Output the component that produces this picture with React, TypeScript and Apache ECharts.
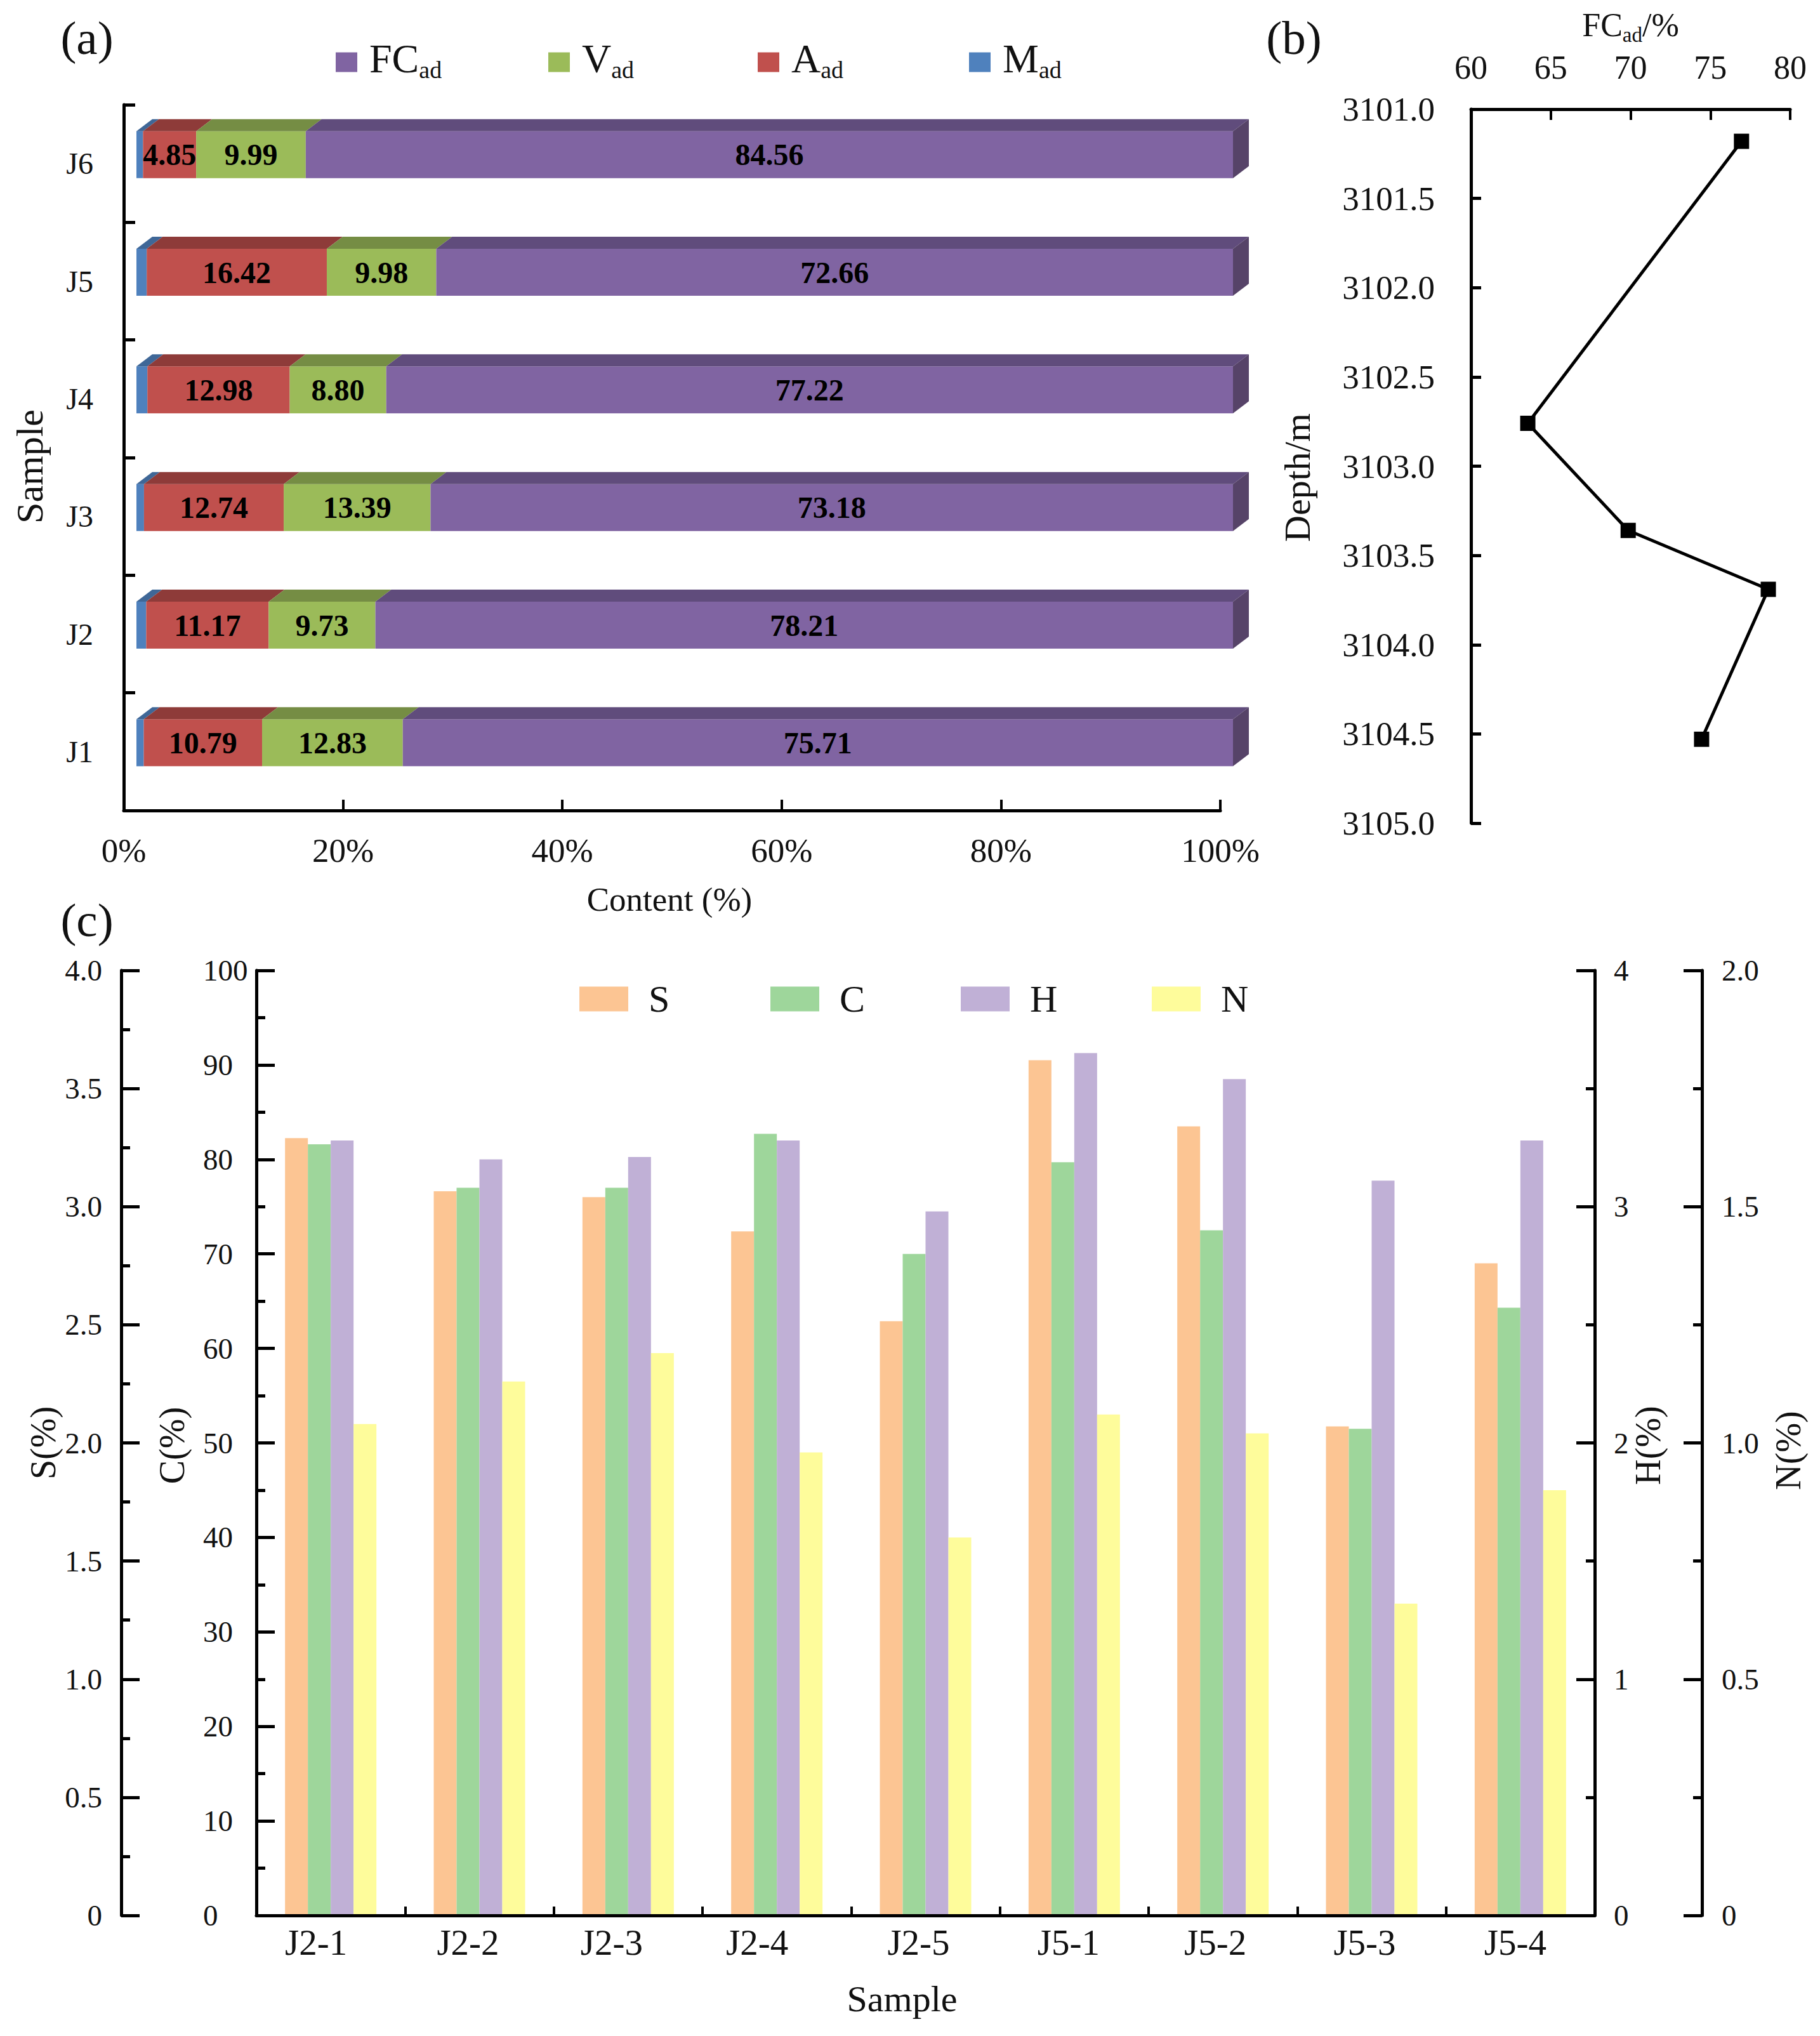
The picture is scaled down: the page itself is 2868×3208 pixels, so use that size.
import * as React from "react";
import * as echarts from "echarts";

const FONT = "Liberation Serif";
const INK = "#111111";

// panel (a): proximate analysis, J1 at the bottom
const samples = ["J1", "J2", "J3", "J4", "J5", "J6"];
const madValues = [0.67, 0.89, 0.69, 1.0, 0.94, 0.6];
const aadValues = [10.79, 11.17, 12.74, 12.98, 16.42, 4.85];
const vadValues = [12.83, 9.73, 13.39, 8.8, 9.98, 9.99];
const fcValues = [75.71, 78.21, 73.18, 77.22, 72.66, 84.56];

// panel (b): FCad against depth
const fcProfile = [76.95, 63.56, 69.85, 78.63, 74.45];
const depthProfile = [3101.18, 3102.76, 3103.36, 3103.69, 3104.53];

// panel (c): ultimate analysis
const ultimateSamples = ["J2-1", "J2-2", "J2-3", "J2-4", "J2-5", "J5-1", "J5-2", "J5-3", "J5-4"];
const sValues = [3.29, 3.065, 3.04, 2.895, 2.515, 3.62, 3.34, 2.07, 2.76];
const cValues = [81.6, 77.0, 77.0, 82.7, 70.0, 79.7, 72.5, 51.5, 64.3];
const hValues = [3.28, 3.2, 3.21, 3.28, 2.98, 3.65, 3.54, 3.11, 3.28];
const nValues = [1.04, 1.13, 1.19, 0.98, 0.8, 1.06, 1.02, 0.66, 0.9];
// the labels under (c) were placed by hand in the original, not centred on their bars
const labelShift = [23, 18, 26, 31, 11, 9, 12, 11, 8];

const axisLine = { show: true, onZero: false, lineStyle: { color: "#000", width: 5 } };
const text = (fontSize: number) => ({ fontFamily: FONT, fontSize, color: INK });
const one = (v: number) => (v === 0 ? "0" : v.toFixed(1));

// 3D-looking stacked segment; the Excel chart shifts the front face off the axis
function segment(name: string, values: number[], before: number[][], front: string, top: string, side?: string) {
  const data = values.map((v, i) => {
    const start = before.reduce((sum, arr) => sum + arr[i], 0);
    return [i, start, start + v, v];
  });
  return {
    type: "custom",
    name,
    xAxisIndex: 0,
    yAxisIndex: 0,
    itemStyle: { color: front },
    encode: { x: [1, 2], y: 0 },
    data,
    renderItem: (_: unknown, api: any) => {
      const [x0, yc] = api.coord([api.value(1), api.value(0)]);
      const [x1] = api.coord([api.value(2), api.value(0)]);
      const dx = 25;
      const dy = 19;
      const fx0 = x0 + 20;
      const fx1 = x1 + 20;
      const y0 = yc - 51;
      const y1 = yc + 23;
      const children: any[] = [
        { type: "rect", shape: { x: fx0, y: y0, width: fx1 - fx0, height: y1 - y0 }, style: { fill: front } },
        {
          type: "polygon",
          shape: { points: [[fx0, y0], [fx1, y0], [fx1 + dx, y0 - dy], [fx0 + dx, y0 - dy]] },
          style: { fill: top },
        },
      ];
      if (side) {
        children.push({
          type: "polygon",
          shape: { points: [[fx1, y0], [fx1 + dx, y0 - dy], [fx1 + dx, y1 - dy], [fx1, y1]] },
          style: { fill: side },
        });
      }
      if (name !== "Mad") {
        children.push({
          type: "text",
          style: {
            text: api.value(3).toFixed(2),
            x: (fx0 + fx1) / 2,
            y: (y0 + y1) / 2,
            align: "center",
            verticalAlign: "middle",
            fontFamily: FONT,
            fontWeight: "bold",
            fontSize: 48,
            fill: "#000",
          },
        });
      }
      return { type: "group", children };
    },
  };
}

function legendOne(name: string, left: number, top: number, w: number, h: number, rich: any, label: string) {
  return {
    data: [name],
    left,
    top,
    padding: 0,
    icon: "rect",
    itemWidth: w,
    itemHeight: h,
    selectedMode: false,
    formatter: () => label,
    textStyle: { ...text(60), rich },
  };
}

const adRich = {
  a: { fontFamily: FONT, fontSize: 64, color: INK, padding: [0, 0, 12, 14] },
  b: { fontFamily: FONT, fontSize: 38, color: INK, padding: [24, 0, 0, 0] },
};
const elemRich = { a: { fontFamily: FONT, fontSize: 60, color: INK, padding: [0, 0, 0, 27] } };

function elemBar(name: string, values: number[], axis: number, color: string) {
  return {
    type: "bar",
    name,
    xAxisIndex: 2,
    yAxisIndex: axis,
    barWidth: 36,
    barGap: "0%",
    itemStyle: { color },
    data: values,
  };
}

function App() {
  const ref = React.useRef<HTMLDivElement | null>(null);

  React.useEffect(() => {
    if (!ref.current) return;
    const chart = echarts.init(ref.current, undefined, { renderer: "svg" });
    const option = {
      animation: false,
      backgroundColor: "#fff",
      graphic: [
        { type: "text", x: 137, y: 59, style: { text: "(a)", fontFamily: FONT, fontSize: 75, fill: INK, align: "center", verticalAlign: "middle" } },
        { type: "text", x: 2039, y: 59, style: { text: "(b)", fontFamily: FONT, fontSize: 75, fill: INK, align: "center", verticalAlign: "middle" } },
        { type: "text", x: 137, y: 1449, style: { text: "(c)", fontFamily: FONT, fontSize: 75, fill: INK, align: "center", verticalAlign: "middle" } },
      ],
      legend: [
        legendOne("FCad", 529, 60, 34, 31, adRich, "{a|FC}{b|ad}"),
        legendOne("Vad", 864, 60, 34, 31, adRich, "{a|V}{b|ad}"),
        legendOne("Aad", 1194, 60, 34, 31, adRich, "{a|A}{b|ad}"),
        legendOne("Mad", 1527, 60, 34, 31, adRich, "{a|M}{b|ad}"),
        legendOne("S", 913, 1544, 77, 39, elemRich, "{a|S}"),
        legendOne("C", 1214, 1544, 77, 39, elemRich, "{a|C}"),
        legendOne("H", 1514, 1544, 77, 39, elemRich, "{a|H}"),
        legendOne("N", 1815, 1544, 77, 39, elemRich, "{a|N}"),
      ],
      grid: [
        { left: 195, top: 165, width: 1728, height: 1112, outerBoundsMode: "none" },
        { left: 2318, top: 172, width: 503, height: 1125, outerBoundsMode: "none" },
        { left: 404, top: 1529, width: 2109, height: 1489, outerBoundsMode: "none" },
      ],
      xAxis: [
        {
          gridIndex: 0,
          type: "value",
          min: 0,
          max: 100,
          interval: 20,
          name: "Content (%)",
          nameLocation: "middle",
          nameGap: 113,
          nameMoveOverlap: false,
          nameTextStyle: { ...text(53), padding: [0, 8, 0, 0] },
          axisLine,
          axisTick: { show: true, inside: true, length: 17, lineStyle: { color: "#000", width: 4 } },
          axisLabel: { ...text(53), margin: 36, formatter: (v: number) => `${v}%` },
          splitLine: { show: false },
        },
        {
          gridIndex: 1,
          type: "value",
          position: "top",
          min: 60,
          max: 80,
          interval: 5,
          name: "{a|FC}{b|ad}{a|/%}",
          nameLocation: "middle",
          nameGap: 101,
          nameMoveOverlap: false,
          nameTextStyle: {
            rich: {
              a: { fontFamily: FONT, fontSize: 52, color: INK },
              b: { fontFamily: FONT, fontSize: 33, color: INK, padding: [30, 0, 0, 0] },
            },
          },
          axisLine,
          axisTick: { show: true, inside: true, length: 17, lineStyle: { color: "#000", width: 4 } },
          axisLabel: { ...text(52), margin: 40 },
          splitLine: { show: false },
        },
        {
          gridIndex: 2,
          type: "category",
          data: ultimateSamples.map((value, i) => ({ value, textStyle: { padding: [0, labelShift[i] * 2, 0, 0] } })),
          name: "Sample",
          nameLocation: "middle",
          nameGap: 102,
          nameMoveOverlap: false,
          nameTextStyle: { ...text(58), padding: [0, 74, 0, 0] },
          z: 5,
          axisLine,
          axisTick: { show: true, inside: true, length: 14, alignWithLabel: false, lineStyle: { color: "#000", width: 4 } },
          axisLabel: { ...text(57), margin: 14, interval: 0 },
          splitLine: { show: false },
        },
      ],
      yAxis: [
        {
          gridIndex: 0,
          type: "category",
          data: samples,
          name: "Sample",
          nameLocation: "middle",
          nameGap: 118,
          nameMoveOverlap: false,
          nameTextStyle: { ...text(60), padding: [0, 28, 0, 0] },
          axisLine,
          axisTick: { show: true, inside: true, length: 18, lineStyle: { color: "#000", width: 5 } },
          axisLabel: { ...text(48), margin: 48 },
          splitLine: { show: false },
        },
        {
          gridIndex: 1,
          type: "value",
          inverse: true,
          min: 3101,
          max: 3105,
          interval: 0.5,
          name: "Depth/m",
          nameLocation: "middle",
          nameGap: 245,
          nameMoveOverlap: false,
          nameTextStyle: { ...text(58), padding: [0, 36, 0, 0] },
          axisLine,
          axisTick: { show: true, inside: true, length: 16, lineStyle: { color: "#000", width: 5 } },
          axisLabel: { ...text(53), margin: 57, formatter: (v: number) => v.toFixed(1) },
          splitLine: { show: false },
        },
        leftAxis("S(%)", 0, 4, 0.5, 213, 30, 95, "right", 0, one),
        leftAxis("C(%)", 0, 100, 10, 0, 84, 105, "left", 8, (v: number) => String(v)),
        rightAxis("H(%)", 0, 4, 1, 0, 30, 56, 8, (v: number) => String(v)),
        rightAxis("N(%)", 0, 2, 0.5, 169, 31, 108, 24, one),
      ],
      series: [
        segment("Mad", madValues, [], "#4F81BD", "#3F6797"),
        segment("Aad", aadValues, [madValues], "#C0504D", "#8E3B39"),
        segment("Vad", vadValues, [madValues, aadValues], "#9BBB59", "#758D44"),
        segment("FCad", fcValues, [madValues, aadValues, vadValues], "#8064A2", "#604C7C", "#564368"),
        {
          type: "line",
          name: "FCad profile",
          xAxisIndex: 1,
          yAxisIndex: 1,
          symbol: "rect",
          symbolSize: 24,
          lineStyle: { color: "#000", width: 5 },
          itemStyle: { color: "#000" },
          data: fcProfile.map((v, i) => [v, depthProfile[i]]),
        },
        elemBar("S", sValues, 2, "#FCC593"),
        elemBar("C", cValues, 3, "#9ED69B"),
        elemBar("H", hValues, 4, "#C0B0D6"),
        elemBar("N", nValues, 5, "#FEFC9B"),
      ],
    };
    chart.setOption(option);
    return () => chart.dispose();
  }, []);

  return <div ref={ref} style={{ position: "absolute", left: 0, top: 0, width: 2868, height: 3208 }} />;
}

function leftAxis(name: string, min: number, max: number, interval: number, offset: number, margin: number, nameGap: number, align: string, namePad: number, formatter: (v: number) => string) {
  return {
    gridIndex: 2,
    type: "value",
    position: "left",
    min,
    max,
    interval,
    offset,
    name,
    nameLocation: "middle",
    nameGap,
    nameMoveOverlap: false,
    nameTextStyle: { ...text(56), padding: [0, namePad, 0, 0] },
    axisLine,
    axisTick: { show: true, inside: true, length: 29, lineStyle: { color: "#000", width: 5 } },
    minorTick: { show: true, splitNumber: 2, length: 14, lineStyle: { color: "#000", width: 5 } },
    axisLabel: { ...text(47), margin, align, formatter },
    splitLine: { show: false },
    minorSplitLine: { show: false },
  };
}

function rightAxis(name: string, min: number, max: number, interval: number, offset: number, margin: number, nameGap: number, namePad: number, formatter: (v: number) => string) {
  return {
    gridIndex: 2,
    type: "value",
    position: "right",
    min,
    max,
    interval,
    offset,
    name,
    nameLocation: "middle",
    nameGap,
    nameRotate: 90,
    nameMoveOverlap: false,
    nameTextStyle: { ...text(56), padding: [0, namePad, 0, 0] },
    axisLine,
    axisTick: { show: true, inside: true, length: 29, lineStyle: { color: "#000", width: 5 } },
    minorTick: { show: true, splitNumber: 2, length: 14, lineStyle: { color: "#000", width: 5 } },
    axisLabel: { ...text(47), margin, align: "left", formatter },
    splitLine: { show: false },
    minorSplitLine: { show: false },
  };
}

export default App;
